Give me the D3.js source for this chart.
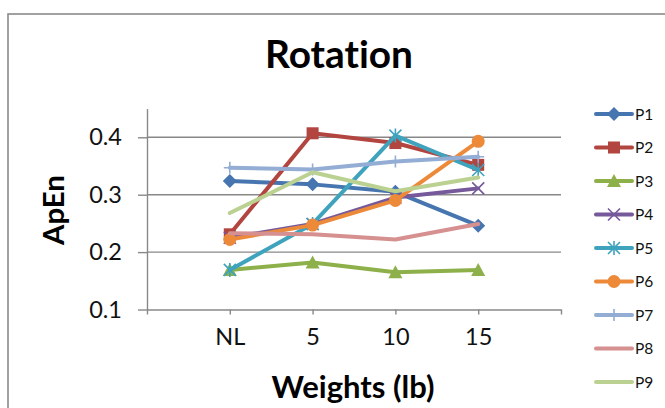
<!DOCTYPE html>
<html><head><meta charset="utf-8">
<script src="https://cdn.jsdelivr.net/npm/d3@7"></script>
<style>body{margin:0;background:#fff}svg{display:block}text{font-variant-ligatures:none;font-feature-settings:"liga" 0,"clig" 0}</style>
</head><body>
<svg id="c" width="665" height="408"></svg>
<script>
const categories = ["", "NL", "5", "10", "15", ""];
const pointIdx = [1, 2, 3, 4];
const seriesNames = ["P1","P2","P3","P4","P5","P6","P7","P8","P9"];
const P1 = [0.324, 0.318, 0.305, 0.246];
const P2 = [0.231, 0.407, 0.390, 0.352];
const P3 = [0.169, 0.182, 0.165, 0.169];
const P4 = [0.225, 0.249, 0.295, 0.311];
const P5 = [0.169, 0.249, 0.403, 0.343];
const P6 = [0.222, 0.247, 0.290, 0.393];
const P7 = [0.347, 0.344, 0.358, 0.366];
const P8 = [0.233, 0.231, 0.222, 0.249];
const P9 = [0.268, 0.339, 0.306, 0.330];
const yTicks = [0.1, 0.2, 0.3, 0.4];
const colors = ["#4675AF","#B2453F","#8DB04A","#76599A","#3FA3BD","#EC8A3A","#93ADD4","#D5908F","#BBD192"];
const markers = ["diamond","square","triangle","x","star","circle","plus","none","none"];
const values = [P1,P2,P3,P4,P5,P6,P7,P8,P9];

const svg = d3.select("#c");
const FONT = "Lato, 'Open Sans', sans-serif";

// outer frame
svg.append("rect").attr("x",8).attr("y",14).attr("width",720).attr("height",460)
  .attr("fill","none").attr("stroke","#8a8a8a").attr("stroke-width",1.6);

const x = d3.scalePoint().domain(d3.range(categories.length)).range([147, 561]);
const y = d3.scaleLinear().domain([0.1, 0.45]).range([309.5, 108.6]);

// gridlines
svg.append("g").selectAll("line").data(yTicks.slice(1)).join("line")
  .attr("x1",147).attr("x2",561).attr("y1",d=>y(d)).attr("y2",d=>y(d))
  .attr("stroke","#888").attr("stroke-width",1.4);

// y axis
const yAxis = svg.append("g").attr("transform","translate(147,0)")
  .call(d3.axisLeft(y).tickValues(yTicks).tickFormat(d3.format(".1f")).tickSizeInner(9).tickSizeOuter(0).tickPadding(16));
yAxis.select(".domain").attr("stroke","#888").attr("stroke-width",1.4);
yAxis.selectAll(".tick line").attr("stroke","#888").attr("stroke-width",1.4);
yAxis.selectAll("text").attr("font-family",FONT).attr("font-size",23.5).attr("fill","#111");

// x axis
const xAxis = svg.append("g").attr("transform",`translate(0,${y(0.1)})`)
  .call(d3.axisBottom(x).tickFormat(i=>categories[i]).tickSizeInner(5).tickSizeOuter(0).tickPadding(14));
xAxis.select(".domain").attr("stroke","#888").attr("stroke-width",1.4);
xAxis.selectAll(".tick line").attr("stroke","#888").attr("stroke-width",1.4);
xAxis.selectAll("text").attr("font-family",FONT).attr("font-size",23.5).attr("fill","#111");

function fit(sel, target){
  const w = sel.node().getComputedTextLength();
  const fs = parseFloat(sel.attr("font-size"));
  sel.attr("font-size", fs*target/w);
}
// titles
fit(svg.append("text").attr("x",339).attr("y",68).attr("text-anchor","middle")
  .attr("font-family",FONT).attr("font-weight","bold").attr("font-size",38).attr("fill","#000").text("Rotation"), 148);
fit(svg.append("text").attr("x",353).attr("y",398).attr("text-anchor","middle")
  .attr("font-family",FONT).attr("font-weight","bold").attr("font-size",28).attr("fill","#000").text("Weights (lb)"), 163);
fit(svg.append("text").attr("transform","translate(64,210) rotate(-90)").attr("text-anchor","middle")
  .attr("font-family",FONT).attr("font-weight","bold").attr("font-size",28).attr("fill","#000").text("ApEn"), 70);

function marker(g, type, color, cx, cy){
  const s = 6;
  if(type==="diamond") g.append("path").attr("d",`M${cx},${cy-s-1}L${cx+s+1},${cy}L${cx},${cy+s+1}L${cx-s-1},${cy}Z`).attr("fill",color);
  else if(type==="square") g.append("rect").attr("x",cx-s).attr("y",cy-s).attr("width",2*s).attr("height",2*s).attr("fill",color);
  else if(type==="triangle") g.append("path").attr("d",`M${cx},${cy-s-1}L${cx+s+1},${cy+s}L${cx-s-1},${cy+s}Z`).attr("fill",color);
  else if(type==="circle") g.append("circle").attr("cx",cx).attr("cy",cy).attr("r",s+0.5).attr("fill",color);
  else if(type==="x") g.append("path").attr("d",`M${cx-s},${cy-s}L${cx+s},${cy+s}M${cx-s},${cy+s}L${cx+s},${cy-s}`).attr("stroke",color).attr("stroke-width",1.6).attr("fill","none");
  else if(type==="star") g.append("path").attr("d",`M${cx-s},${cy-s}L${cx+s},${cy+s}M${cx-s},${cy+s}L${cx+s},${cy-s}M${cx},${cy-s-1}L${cx},${cy+s+1}`).attr("stroke",color).attr("stroke-width",1.6).attr("fill","none");
  else if(type==="plus") g.append("path").attr("d",`M${cx-s},${cy}L${cx+s},${cy}M${cx},${cy-s}L${cx},${cy+s}`).attr("stroke",color).attr("stroke-width",1.6).attr("fill","none");
}

const line = d3.line().x((d,i)=>x(pointIdx[i])).y(d=>y(d));
values.forEach((vals,k)=>{
  const g = svg.append("g");
  g.append("path").attr("d",line(vals)).attr("fill","none").attr("stroke",colors[k])
    .attr("stroke-width",4).attr("stroke-linejoin","round").attr("stroke-linecap","round");
  vals.forEach((v,i)=>marker(g, markers[k], colors[k], x(pointIdx[i]), y(v)));
});

// legend
const lg = svg.append("g");
seriesNames.forEach((n,k)=>{
  const cy = 114 + k*33.5;
  lg.append("line").attr("x1",596).attr("x2",632).attr("y1",cy).attr("y2",cy)
    .attr("stroke",colors[k]).attr("stroke-width",4).attr("stroke-linecap","round");
  marker(lg, markers[k], colors[k], 614, cy);
  lg.append("text").attr("x",635).attr("y",cy+5.5).attr("font-family",FONT).attr("font-size",15.5)
    .attr("fill","#111").text(n);
});
</script>
</body></html>
